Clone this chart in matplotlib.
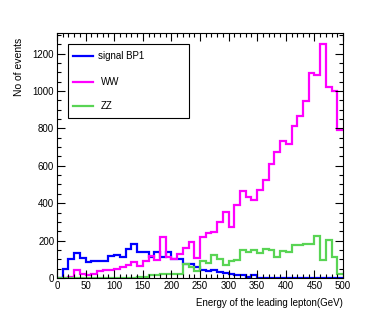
import numpy as np
import matplotlib
matplotlib.use("Agg")
import matplotlib.pyplot as plt
from matplotlib.lines import Line2D
from matplotlib.patches import Rectangle
from matplotlib.ticker import MultipleLocator

plt.rcParams['font.family'] = ['Liberation Sans', 'DejaVu Sans']

# Bin edges: 50 bins of 10 GeV from 0 to 500
bin_edges = np.arange(0, 510, 10)

signal_bp1 = [0, 50, 99, 135, 108, 87, 90, 90, 92, 116,
              125, 111, 156, 184, 138, 138, 110, 138, 112, 139,
              102, 104, 77, 77, 58, 45, 38, 43, 30, 25,
              20, 18, 15, 8, 18, 0, 0, 0, 0, 0,
              0, 0, 0, 0, 0, 0, 0, 0, 0, 0]

ww = [0, 0, 8, 44, 24, 18, 19, 39, 44, 45,
      47, 59, 67, 83, 64, 90, 117, 95, 220, 112,
      104, 130, 158, 190, 105, 218, 240, 245, 298, 353,
      273, 388, 467, 433, 415, 469, 523, 607, 673, 730,
      714, 812, 868, 945, 1098, 1085, 1251, 1023, 998, 794]

zz = [0, 0, 0, 0, 0, 0, 0, 0, 0, 0,
      0, 0, 0, 0, 3, 8, 15, 18, 20, 20,
      22, 24, 77, 60, 36, 90, 82, 125, 103, 72,
      93, 95, 148, 138, 152, 134, 157, 148, 113, 146,
      138, 175, 178, 181, 181, 227, 95, 205, 113, 24]

labels = ["signal BP1", "WW", "ZZ"]
colors = ["#0000ff", "#ff00ff", "#59d454"]
x_ticks = [0, 50, 100, 150, 200, 250, 300, 350, 400, 450, 500]
y_ticks = [0, 200, 400, 600, 800, 1000, 1200]

fig = plt.figure(figsize=(3.82, 3.27), dpi=100)
ax = fig.add_axes([57/382, 1-278/327, 286/382, 245/327])

for vals, col in zip([signal_bp1, ww, zz], colors):
    ax.stairs(vals, bin_edges, color=col, linewidth=1.6, baseline=None)

ax.set_xlim(0, 500)
ax.set_ylim(0, 1310)
ax.set_xticks(x_ticks)
ax.set_yticks(y_ticks)
ax.xaxis.set_minor_locator(MultipleLocator(10))
ax.yaxis.set_minor_locator(MultipleLocator(50))
ax.tick_params(which='both', direction='in', top=True, right=True,
               labelsize=7, width=0.8, colors='black')
ax.tick_params(which='major', length=6, pad=2)
ax.tick_params(which='minor', length=3)
for s in ax.spines.values():
    s.set_linewidth(0.8)
    s.set_color('black')

ax.set_xlabel("Energy of the leading lepton(GeV)", fontsize=7, loc='right', labelpad=5)
ax.set_ylabel("No of events", fontsize=7.5, loc='top')
ax.yaxis.set_label_coords(-0.115, 0.98)

# Legend box (ROOT style)
bx0, bx1, by0, by1 = 0.038, 0.462, 0.653, 0.955
ax.add_patch(Rectangle((bx0, by0), bx1 - bx0, by1 - by0, transform=ax.transAxes,
                       facecolor='white', edgecolor='black', linewidth=0.8, zorder=5))
ys = [0.906, 0.801, 0.701]
xs_text = [0.143, 0.152, 0.152]
for lab, col, yy, xt in zip(labels, colors, ys, xs_text):
    ax.add_line(Line2D([0.056, 0.126], [yy, yy], transform=ax.transAxes,
                       color=col, linewidth=1.6, zorder=6))
    ax.text(xt, yy, lab, transform=ax.transAxes, fontsize=7,
            va='center', ha='left', zorder=6)

fig.savefig("out.png", dpi=100)
